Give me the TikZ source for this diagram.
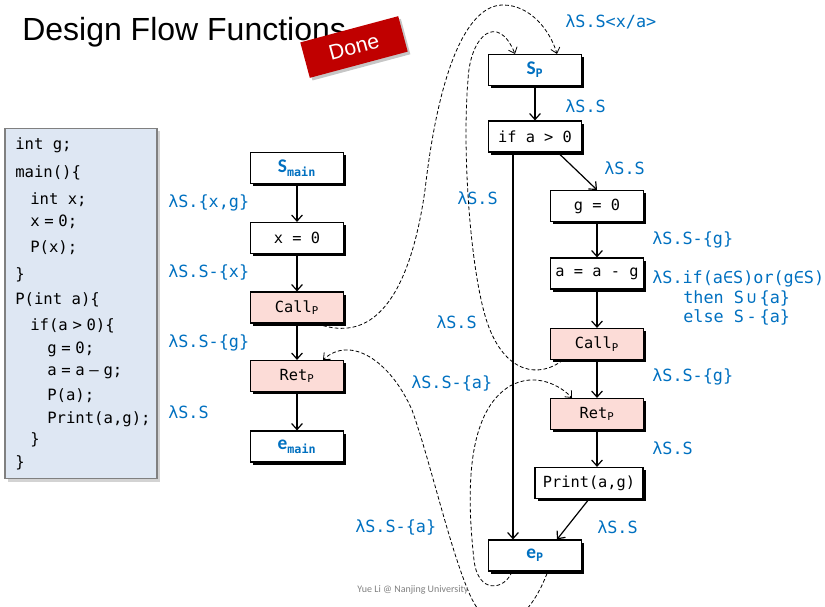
\documentclass[tikz,border=0pt]{standalone}
\usepackage{fontspec}
\setmainfont{Liberation Sans}
\setmonofont{DejaVu Sans Mono}
\newfontfamily\calfont{Carlito}
\usepackage{xcolor}
\usetikzlibrary{arrows.meta,shadows,calc}

\definecolor{lblue}{RGB}{0,112,192}
\definecolor{callpink}{RGB}{252,220,215}
\definecolor{codebg}{RGB}{222,231,243}
\definecolor{stampred}{RGB}{192,0,0}

\newcommand\entry[2]{\textcolor{lblue}{{\calfont\bfseries\fontsize{14.5}{16}\selectfont #1}\textsubscript{\ttfamily\bfseries\fontsize{8.8}{9}\selectfont #2}}}
\newcommand\nsp{\hspace{.3em}}

\begin{document}
\begin{tikzpicture}[x=0.75pt,y=-0.75pt,
    box/.style={draw,line width=1.1pt,fill=white,minimum width=69.5pt,minimum height=23pt,
      inner sep=2pt,font=\fontsize{11.5}{13}\selectfont\ttfamily,
      general shadow={fill=black,shadow xshift=2pt,shadow yshift=-2pt}},
    callbox/.style={box,fill=callpink},
    lab/.style={anchor=west,inner sep=0pt,text=lblue,font=\fontsize{12.6}{14}\selectfont\ttfamily},
    codeline/.style={anchor=west,inner sep=0pt,font=\fontsize{11.7}{13}\selectfont\ttfamily},
    flow/.style={-{Straight Barb[length=4.5pt,width=8pt]},line width=0.9pt},
    link/.style={-{Straight Barb[length=4pt,width=7pt]},line width=0.6pt,dash pattern=on 2.8pt off 1.7pt},
    stamp/.style={fill=stampred,text=white,minimum width=76pt,minimum height=27.5pt,
      font=\fontsize{16}{16}\selectfont,
      drop shadow={opacity=0.45,shadow xshift=2pt,shadow yshift=-2pt}}]
  \useasboundingbox (0,0) rectangle (825,607);
  \clip (0,0) rectangle (825,607);

  % ---------------- title ----------------
  \node[anchor=base west,inner sep=0pt,font=\fontsize{24}{28}\selectfont] (title) at (22,40) {Design Flow Functions};
  \node[stamp,rotate=15] (done) at (354,47) {Done};

  % ---------------- source code ----------------
  \node[draw=gray,line width=0.8pt,fill=codebg,minimum width=114pt,minimum height=263pt,
        drop shadow={opacity=0.35,shadow xshift=2pt,shadow yshift=-2pt}] (code) at (81,303.5) {};
  \foreach \y/\x/\txt in {
      145/15/{int g;}, 173/15/{main()\{}, 200/30/{int x;}, 222/30/{x\nsp=\nsp0;},
      248/30/{P(x);}, 275/15/{\}}, 300/15/{P(int a)\{}, 326/30/{if(a\nsp>\nsp0)\{},
      349/47/{g\nsp=\nsp0;}, 373/47/{a\nsp=\nsp a\nsp–\nsp g;}, 396/47/{P(a);},
      419/47/{Print(a,g);}, 440/30/{\}}, 463/15/{\}}}{
    \node[codeline] at (\x,\y) {\txt};
  }

  % ---------------- main ----------------
  \node[box] (smain) at (297,168) {\entry{S}{main}};
  \node[box] (x0) at (297,238) {x = 0};
  \node[callbox] (callp) at (297,307.5) {Call\textsubscript{P}};
  \node[callbox] (retp) at (297,376) {Ret\textsubscript{P}};
  \node[box] (emain) at (297,446.5) {\entry{e}{main}};

  \draw[flow] (smain) -- (x0);
  \draw[flow] (x0) -- (callp);
  \draw[flow] (callp) -- (retp);
  \draw[flow] (retp) -- (emain);

  \node[lab] at (168,203) {λS.\{x,g\}};
  \node[lab] at (168,272) {λS.S-\{x\}};
  \node[lab] at (168,343) {λS.S-\{g\}};
  \node[lab] at (168,412) {λS.S};

  % ---------------- P ----------------
  \node[box] (sp) at (535,70) {\entry{S}{P}};
  \node[box] (ifa) at (535,136.5) {if a > 0};
  \node[box] (g0) at (597,206) {g = 0};
  \node[box] (asub) at (597,273.5) {a = a - g};
  \node[callbox] (callq) at (597,344) {Call\textsubscript{P}};
  \node[callbox] (retq) at (597,414) {Ret\textsubscript{P}};
  \node[box,minimum width=81pt] (print) at (589,483) {Print(a,g)};
  \node[box] (ep) at (535,555.5) {\entry{e}{P}};

  \coordinate (split) at ($(ifa.south)+(-22,0)$);
  \draw[flow] (sp) -- (ifa);
  \draw[flow] ($(ifa.south)+(23,0)$) -- (g0.north);
  \draw[flow] (split) -- (split |- ep.north);
  \draw[flow] (g0) -- (asub);
  \draw[flow] (asub) -- (callq);
  \draw[flow] (callq) -- (retq);
  \draw[flow] (retq.south) -- (retq.south |- print.north);
  \draw[flow] (print.south) -- ($(ep.north)+(22,0)$);

  \node[lab] at (565,22) {λS.S<x/a>};
  \node[lab] at (565,106) {λS.S};
  \node[lab] at (604,168) {λS.S};
  \node[lab] at (457,198) {λS.S};
  \node[lab] at (652,240) {λS.S-\{g\}};
  \node[lab] at (652,279) {λS.if(a∈S)or(g∈S)};
  \node[lab] at (683,298) {then S\,∪\,\{a\}};
  \node[lab] at (683,317) {else S\,-\,\{a\}};
  \node[lab] at (436,322) {λS.S};
  \node[lab] at (652,377) {λS.S-\{g\}};
  \node[lab] at (411,383) {λS.S-\{a\}};
  \node[lab] at (652,448) {λS.S};
  \node[lab] at (355,527) {λS.S-\{a\}};
  \node[lab] at (597,527) {λS.S};

  % ---------------- call / return edges ----------------
  \draw[link] ($(callp.south)+(26,2)$) .. controls (390,345) and (415,260) .. (425,190)
     .. controls (440,60) and (470,5) .. (503,5) .. controls (530,5) and (550,30) .. ($(sp.north)+(22,0)$);
  \draw[link] ($(callq.south)+(-34,0)$) .. controls (540,378) and (505,375) .. (487,322)
     .. controls (470,270) and (462,150) .. (468,80) .. controls (470,35) and (498,12) .. ($(sp.north)+(-20,0)$);
  \draw[link] ($(ep.south)+(-23,0)$) .. controls (505,590) and (478,595) .. (474,560)
     .. controls (465,480) and (470,410) .. (510,386) .. controls (535,372) and (560,385) .. ($(retq.north)+(-25,0)$);
  \draw[link] ($(ep.south)+(12,2)$) .. controls (525,630) and (490,640) .. (470,595)
     .. controls (450,550) and (430,460) .. (412,410) .. controls (390,360) and (350,335) .. ($(retp.north)+(26,0)$);

  \node[font=\calfont\fontsize{7.5}{9}\selectfont,text=gray] (credit) at (413,590) {Yue Li @ Nanjing University};
\end{tikzpicture}
\end{document}
